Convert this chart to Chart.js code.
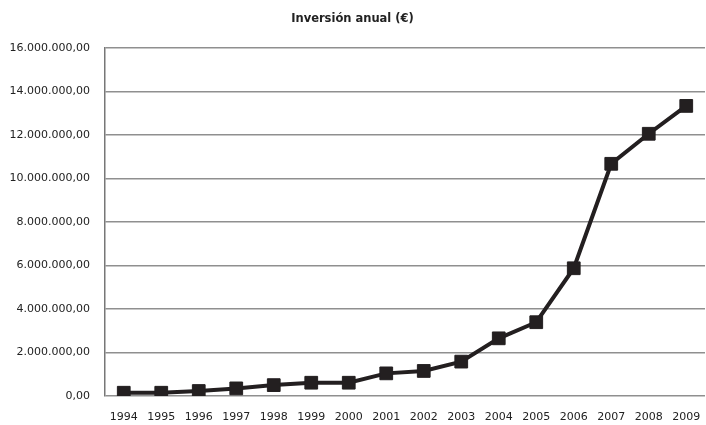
<!DOCTYPE html>
<html>
<head>
<meta charset="utf-8">
<script src="https://cdn.jsdelivr.net/npm/chart.js@4"></script>
<style>
  body { margin: 0; background: #fff; }
  #wrap { width: 706px; height: 425px; }
</style>
</head>
<body>
<div id="wrap"><canvas id="chart"></canvas></div>
<script>
const years = ['1994','1995','1996','1997','1998','1999','2000','2001','2002','2003','2004','2005','2006','2007','2008','2009'];
const inversion = [150000,150000,230000,350000,500000,610000,610000,1040000,1150000,1580000,2650000,3390000,5870000,10670000,12050000,13330000];
const yTicks = [0,2000000,4000000,6000000,8000000,10000000,12000000,14000000,16000000];

function fmtEuro(v) {
  const s = Math.round(v).toString().replace(/\B(?=(\d{3})+(?!\d))/g, '.');
  return s + ',00';
}

const data = {
  labels: years,
  datasets: [
    {
      label: 'Inversión anual (€)',
      data: inversion,
      borderColor: '#231f20',
      backgroundColor: '#231f20',
      borderWidth: 4,
      pointStyle: 'rect',
      pointRadius: 9,
      pointBorderWidth: 1,
      pointHoverRadius: 9,
      tension: 0,
    }
  ]
};

const config = {
  type: 'line',
  data: data,
  options: {
    responsive: true,
    maintainAspectRatio: false,
    animation: false,
    layout: { autoPadding: false, padding: { left: 0, right: 1, top: 0, bottom: 0 } },
    scales: {
      x: {
        offset: true,
        grid: { display: false, drawTicks: false },
        border: { display: false },
        ticks: { color: '#222', font: { family: 'DejaVu Sans', size: 11 }, padding: 15, maxRotation: 0, autoSkip: false },
        afterFit(scale) { scale.height = 29; scale.paddingLeft = 0; scale.paddingRight = 0; }
      },
      y: {
        min: 0,
        max: 16000000,
        afterBuildTicks(scale) { scale.ticks = yTicks.map(v => ({ value: v })); },
        grid: { color: '#8f8f8f', lineWidth: 1.5, drawTicks: false },
        border: { color: '#777', width: 1.5 },
        ticks: { color: '#222', font: { family: 'DejaVu Sans', size: 11 }, padding: 15, callback: v => fmtEuro(v) },
        afterFit(scale) { scale.width = 105; scale.paddingTop = 0; scale.paddingBottom = 0; }
      }
    },
    plugins: {
      legend: { display: false },
      tooltip: { enabled: false },
      title: {
        display: true,
        text: 'Inversión anual (€)',
        color: '#222',
        font: { family: 'DejaVu Sans', size: 11.5, weight: 'bold' },
        padding: { top: 12, bottom: 22 }
      }
    }
  }
};

const chart = new Chart(document.getElementById('chart'), config);
</script>
</body>
</html>
